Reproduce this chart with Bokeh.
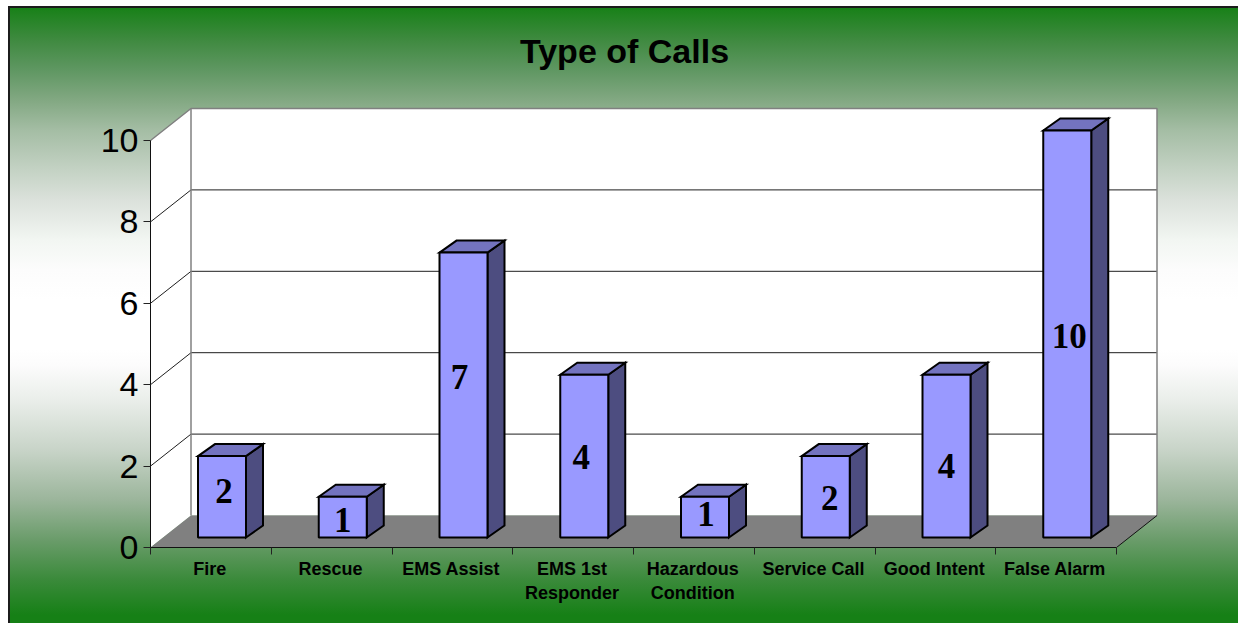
from bokeh.plotting import figure
from bokeh.embed import file_html
from bokeh.resources import INLINE
from bokeh.models import FixedTicker
from bokeh.core.properties import value

categories = ["Fire", "Rescue", "EMS Assist", "EMS 1st\nResponder", "Hazardous\nCondition",
              "Service Call", "Good Intent", "False Alarm"]
calls = [2, 1, 7, 4, 1, 2, 4, 10]
y_ticks = [0, 2, 4, 6, 8, 10]
title_text = "Type of Calls"

# label nudges in pixels (the source chart places its labels unevenly)
label_dx = [2, 0, -4, -3, 1, 4, 0, 2]
label_dy = [-6, 3, -18, 1, -3, 1, 10, 2]

# geometry: pixels per data unit
PX_X, PX_Y = 120.75, 40.7
x_end, y_end = 1009 / PX_X, 537 / PX_Y
wall_dx, wall_dy = 40.5 / PX_X, 32 / PX_Y
bar_x0, bar_w = 47.5 / PX_X, 48 / PX_X
bar_base = 10 / PX_Y
bar_dx, bar_dy = 17 / PX_X, 12 / PX_Y
n = len(categories)
top_val = y_ticks[-1]

gradient = ("linear-gradient(to bottom, #168016 0px, #3f8a40 34px, #5f9762 64px, #82a882 94px, "
            "#a4bda4 124px, #c4d2c4 164px, #dbe1db 194px, #f2f6f2 234px, #fcfcfc 264px, #ffffff 294px, "
            "#ffffff 344px, #fcfcfc 359px, #eaeeea 394px, #c8d4c8 444px, #9bb59b 494px, #6a9c6a 534px, "
            "#3a8a3a 574px, #168016 609px, #168016 617px)")

p = figure(width=1230, height=617, x_range=(0, x_end), y_range=(0, y_end),
           output_backend="svg", toolbar_location=None,
           min_border_left=142, min_border_right=79, min_border_top=4, min_border_bottom=76,
           background_fill_alpha=0, border_fill_alpha=0, outline_line_color=None)
p.styles = {"background": gradient, "box-shadow": "inset 2px 2px 0 #1c1c1c",
            "margin-top": "6px", "margin-left": "8px"}
p.xgrid.visible = False
p.ygrid.visible = False

# side wall, back wall, floor
p.patch([0, wall_dx, wall_dx, 0], [0, wall_dy, top_val + wall_dy, top_val], fill_color="white", line_color=None)
p.quad(left=wall_dx, right=n + wall_dx, bottom=wall_dy, top=top_val + wall_dy, fill_color="white", line_color=None)
p.patch([0, n, n + wall_dx, wall_dx], [0, 0, wall_dy, wall_dy], fill_color="#808080", line_color=None)

# grid lines
for t in y_ticks[1:-1]:
    p.line([0, wall_dx, n + wall_dx], [t, t + wall_dy, t + wall_dy], line_color="#1e1e1e", line_width=1)
# wall edges
p.line([0, wall_dx, n + wall_dx, n + wall_dx], [top_val, top_val + wall_dy, top_val + wall_dy, wall_dy],
       line_color="#808080", line_width=1.5)
p.line([wall_dx, wall_dx], [wall_dy, top_val + wall_dy], line_color="#808080", line_width=1.5)
p.line([n, n + wall_dx], [0, wall_dy], line_color="#111111", line_width=1)

# bars
lefts = [i + bar_x0 for i in range(n)]
rights = [l + bar_w for l in lefts]
tops = [v + bar_base for v in calls]
side_xs = [[r, r + bar_dx, r + bar_dx, r] for r in rights]
side_ys = [[bar_base, bar_base + bar_dy, t + bar_dy, t] for t in tops]
top_xs = [[l, l + bar_dx, r + bar_dx, r] for l, r in zip(lefts, rights)]
top_ys = [[t, t + bar_dy, t + bar_dy, t] for t in tops]
p.patches(side_xs, side_ys, fill_color="#4d4d80", line_color="black", line_width=2, line_join="miter")
p.patches(top_xs, top_ys, fill_color="#7373bf", line_color="black", line_width=2, line_join="miter")
p.quad(left=lefts, right=rights, bottom=bar_base, top=tops, fill_color="#9999ff", line_color="black", line_width=2)

# value labels
p.text(x=[(l + r) / 2 for l, r in zip(lefts, rights)], y=[bar_base + v / 2 for v in calls],
       text=[str(v) for v in calls], x_offset=label_dx, y_offset=label_dy,
       text_font=value("Liberation Serif"), text_font_style="bold", text_font_size="35px",
       text_color="black", text_align="center", text_baseline="middle")

# title, drawn inside the frame so it can sit at the reference's height
p.text(x=[474 / PX_X], y=[497 / PX_Y], text=[title_text],
       text_font=value("Liberation Sans"), text_font_style="bold", text_font_size="34px",
       text_color="black", text_align="center", text_baseline="alphabetic")

# axes
xa = p.xaxis[0]
xa.ticker = FixedTicker(ticks=[i + 0.49 for i in range(n)], minor_ticks=list(range(n + 1)))
xa.major_label_overrides = {i + 0.49: c for i, c in enumerate(categories)}
xa.bounds = (0, n)
xa.major_tick_in = 0
xa.major_tick_out = 0
xa.minor_tick_in = 0
xa.minor_tick_out = 7
xa.minor_tick_line_color = "#222222"
xa.axis_line_color = "#111111"
xa.major_label_standoff = 4
xa.major_label_text_font = "Liberation Sans"
xa.major_label_text_font_style = "bold"
xa.major_label_text_font_size = "18px"
xa.major_label_text_line_height = 1.2
xa.major_label_text_color = "black"

ya = p.yaxis[0]
ya.ticker = FixedTicker(ticks=y_ticks)
ya.bounds = (0, top_val)
ya.major_tick_in = 0
ya.major_tick_out = 7
ya.minor_tick_line_color = None
ya.major_tick_line_color = "#222222"
ya.axis_line_color = "#111111"
ya.major_label_standoff = 5
ya.major_label_text_font = "Liberation Sans"
ya.major_label_text_font_size = "34px"
ya.major_label_text_color = "black"

open("out.html", "w").write(file_html(p, INLINE))
